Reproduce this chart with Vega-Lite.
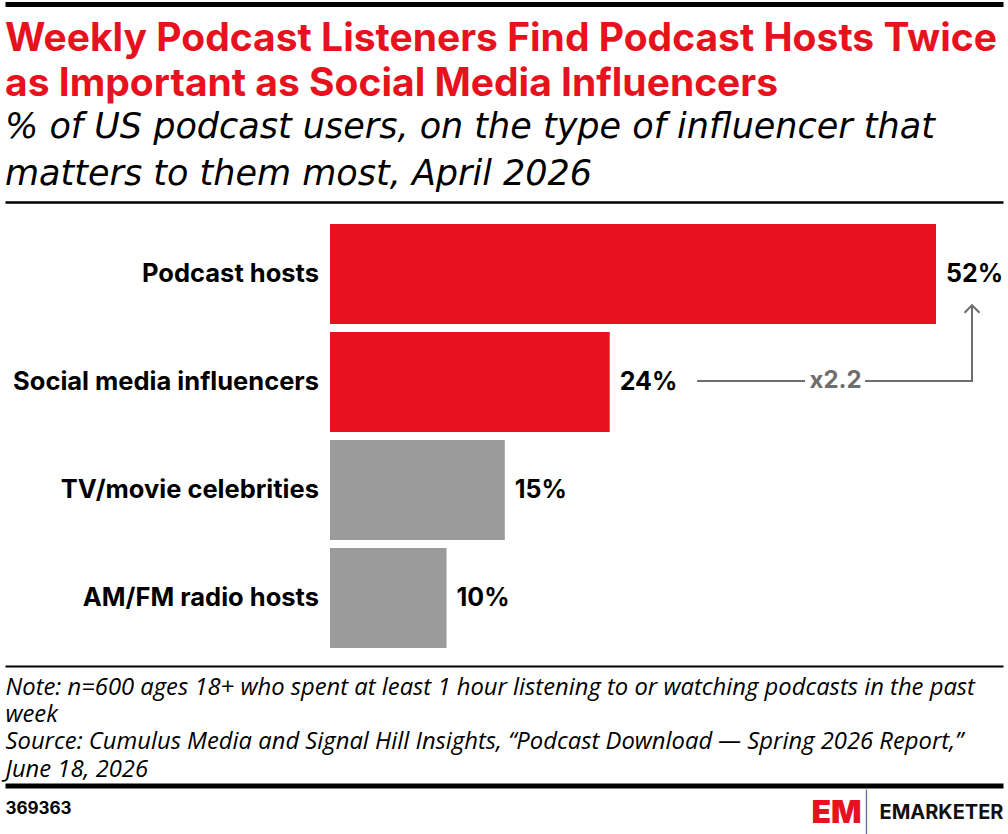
{
  "$schema": "https://vega.github.io/schema/vega-lite/v6.json",
  "width": 998,
  "height": 464,
  "padding": {"left": 5, "right": 5, "top": 4, "bottom": 0},
  "background": "white",
  "config": {"view": {"stroke": null}, "font": "Inter"},
  "title": {
    "text": ["Weekly Podcast Listeners Find Podcast Hosts Twice", "as Important as Social Media Influencers"],
    "subtitle": ["% of US podcast users, on the type of influencer that", "matters to them most, April 2026"],
    "anchor": "start",
    "frame": "bounds",
    "baseline": "top",
    "offset": -188,
    "font": "Inter",
    "fontSize": 39,
    "fontWeight": "bold",
    "color": "#E8121E",
    "lineHeight": 45,
    "subtitleFont": "DejaVu Sans",
    "subtitleFontStyle": "italic",
    "subtitleFontWeight": "normal",
    "subtitleFontSize": 35,
    "subtitleLineHeight": 47,
    "subtitleColor": "#000000",
    "subtitlePadding": 6
  },
  "datasets": {
    "bars": [
      {"cat": "Podcast hosts", "value": 52, "label": "52%"},
      {"cat": "Social media influencers", "value": 24, "label": "24%"},
      {"cat": "TV/movie celebrities", "value": 15, "label": "15%"},
      {"cat": "AM/FM radio hosts", "value": 10, "label": "10%"}
    ],
    "hseg": [
      {"cat": "Social media influencers", "start": 31.5, "end": 40.76},
      {"cat": "Social media influencers", "start": 45.91, "end": 55.09}
    ],
    "vseg": [
      {"from": "Social media influencers", "to": "Podcast hosts", "x": 55.09}
    ],
    "head": [
      {"cat": "Podcast hosts", "x": 55.09}
    ],
    "ratio": [
      {"cat": "Social media influencers", "x": 43.38, "text": "x2.2"}
    ]
  },
  "resolve": {"axis": {"x": "independent"}},
  "layer": [
    {
      "data": {"name": "bars"},
      "mark": {"type": "bar"},
      "encoding": {
        "y": {"field": "cat", "type": "nominal", "axis": null,
          "scale": {"domain": ["Podcast hosts", "Social media influencers", "TV/movie celebrities", "AM/FM radio hosts"], "paddingInner": 0.074, "paddingOuter": 0.185, "align": 0.55}},
        "x": {"field": "value", "type": "quantitative",
          "scale": {"domain": [-27.888, 57.749], "nice": false, "zero": false},
          "axis": {"orient": "top", "offset": 0, "domain": true, "domainColor": "#000000", "domainWidth": 2.5, "ticks": false, "labels": false, "grid": false, "title": null}},
        "color": {"field": "cat", "type": "nominal", "legend": null,
          "scale": {"domain": ["Podcast hosts", "Social media influencers", "TV/movie celebrities", "AM/FM radio hosts"], "range": ["#E8121E", "#E8121E", "#9B9B9B", "#9B9B9B"]}}
      }
    },
    {
      "data": {"name": "bars"},
      "mark": {"type": "text", "align": "left", "baseline": "middle", "dx": 10, "font": "Inter", "fontSize": 25, "fontWeight": "bold", "color": "#000000"},
      "encoding": {
        "y": {"field": "cat", "type": "nominal", "axis": null,
          "scale": {"domain": ["Podcast hosts", "Social media influencers", "TV/movie celebrities", "AM/FM radio hosts"], "paddingInner": 0.074, "paddingOuter": 0.185, "align": 0.55}},
        "x": {"field": "value", "type": "quantitative",
          "scale": {"domain": [-27.888, 57.749], "nice": false, "zero": false},
          "axis": {"orient": "top", "offset": 198, "domain": true, "domainColor": "#000000", "domainWidth": 5, "ticks": false, "labels": false, "grid": false, "title": null}},
        "text": {"field": "label"}
      }
    },
    {
      "data": {"name": "bars"},
      "mark": {"type": "text", "align": "right", "baseline": "middle", "dx": -11, "font": "Inter", "fontSize": 25.5, "fontWeight": "bold", "color": "#000000"},
      "encoding": {
        "y": {"field": "cat", "type": "nominal", "axis": null,
          "scale": {"domain": ["Podcast hosts", "Social media influencers", "TV/movie celebrities", "AM/FM radio hosts"], "paddingInner": 0.074, "paddingOuter": 0.185, "align": 0.55}},
        "x": {"datum": 0, "type": "quantitative",
          "scale": {"domain": [-27.888, 57.749], "nice": false, "zero": false},
          "axis": {"orient": "bottom", "offset": 0, "domain": true, "domainColor": "#000000", "domainWidth": 2, "ticks": false, "labels": false, "grid": false,
            "title": ["Note: n=600 ages 18+ who spent at least 1 hour listening to or watching podcasts in the past", "week", "Source: Cumulus Media and Signal Hill Insights, “Podcast Download — Spring 2026 Report,”", "June 18, 2026"],
            "titleFont": "Open Sans", "titleFontStyle": "italic", "titleFontWeight": "normal", "titleFontSize": 23.8, "titleLineHeight": 27.4, "titleColor": "#000000",
            "titleAnchor": "start", "titleAlign": "left", "titleBaseline": "top", "titlePadding": 9}},
        "text": {"field": "cat"}
      }
    },
    {
      "data": {"name": "hseg"},
      "mark": {"type": "rule", "color": "#6E6E6E", "strokeWidth": 2, "yOffset": -1},
      "encoding": {
        "y": {"field": "cat", "type": "nominal", "axis": null,
          "scale": {"domain": ["Podcast hosts", "Social media influencers", "TV/movie celebrities", "AM/FM radio hosts"], "paddingInner": 0.074, "paddingOuter": 0.185, "align": 0.55}},
        "x": {"field": "start", "type": "quantitative",
          "scale": {"domain": [-27.888, 57.749], "nice": false, "zero": false},
          "axis": {"orient": "bottom", "offset": 119.5, "domain": true, "domainColor": "#000000", "domainWidth": 5, "ticks": false, "labels": false, "grid": false,
            "title": "369363", "titleFont": "Inter", "titleFontWeight": "bold", "titleFontSize": 17, "titleColor": "#000000",
            "titleAnchor": "start", "titleAlign": "left", "titleBaseline": "top", "titlePadding": 15}},
        "x2": {"field": "end"}
      }
    },
    {
      "data": {"name": "vseg"},
      "mark": {"type": "rule", "color": "#6E6E6E", "strokeWidth": 2, "y2Offset": 31},
      "encoding": {
        "y": {"field": "from", "type": "nominal", "axis": null,
          "scale": {"domain": ["Podcast hosts", "Social media influencers", "TV/movie celebrities", "AM/FM radio hosts"], "paddingInner": 0.074, "paddingOuter": 0.185, "align": 0.55}},
        "y2": {"field": "to"},
        "x": {"field": "x", "type": "quantitative",
          "scale": {"domain": [-27.888, 57.749], "nice": false, "zero": false},
          "axis": {"orient": "bottom", "offset": 119.5, "domain": false, "ticks": false, "labels": false, "grid": false,
            "title": "EMARKETER", "titleFont": "Inter", "titleFontWeight": "bold", "titleFontSize": 20, "titleColor": "#111111",
            "titleAnchor": "end", "titleAlign": "right", "titleBaseline": "top", "titlePadding": 17}}
      }
    },
    {
      "data": {"name": "head"},
      "mark": {"type": "point", "shape": "M-1,0.5L0,-0.5L1,0.5", "size": 225, "filled": false, "stroke": "#6E6E6E", "strokeWidth": 2, "opacity": 1, "yOffset": 35},
      "encoding": {
        "y": {"field": "cat", "type": "nominal", "axis": null,
          "scale": {"domain": ["Podcast hosts", "Social media influencers", "TV/movie celebrities", "AM/FM radio hosts"], "paddingInner": 0.074, "paddingOuter": 0.185, "align": 0.55}},
        "x": {"field": "x", "type": "quantitative",
          "scale": {"domain": [-27.888, 57.749], "nice": false, "zero": false},
          "axis": {"orient": "bottom", "offset": 119.5, "domain": false, "ticks": false, "labels": false, "grid": false,
            "title": "EM", "titleFont": "Inter", "titleFontWeight": 900, "titleFontSize": 32, "titleColor": "#E8121E",
            "titleAlign": "left", "titleBaseline": "alphabetic", "titleX": 806, "titleY": 37}}
      }
    },
    {
      "data": {"name": "ratio"},
      "mark": {"type": "text", "align": "center", "baseline": "middle", "font": "Inter", "fontSize": 24, "fontWeight": "bold", "color": "#6E6E6E", "yOffset": -1},
      "encoding": {
        "y": {"field": "cat", "type": "nominal", "axis": null,
          "scale": {"domain": ["Podcast hosts", "Social media influencers", "TV/movie celebrities", "AM/FM radio hosts"], "paddingInner": 0.074, "paddingOuter": 0.185, "align": 0.55}},
        "x": {"field": "x", "type": "quantitative",
          "scale": {"domain": [-27.888, 57.749], "nice": false, "zero": false},
          "axis": {"orient": "bottom", "offset": 119.5, "domain": false, "ticks": false, "labels": false, "grid": false,
            "title": "|", "titleFont": "Inter", "titleFontWeight": 100, "titleFontSize": 38, "titleColor": "#333333",
            "titleAlign": "center", "titleBaseline": "alphabetic", "titleX": 861, "titleY": 40}},
        "text": {"field": "text"}
      }
    }
  ]
}
